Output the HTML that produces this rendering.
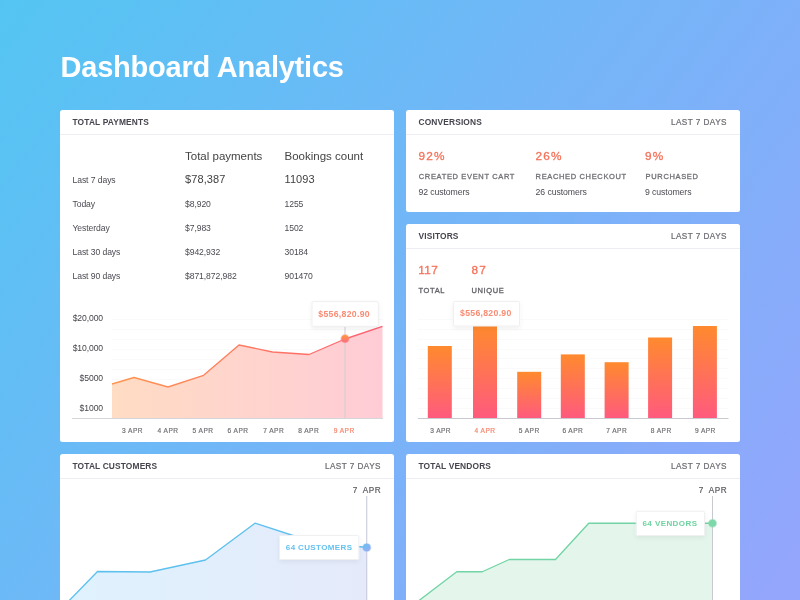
<!DOCTYPE html>
<html><head><meta charset="utf-8">
<style>
html,body{margin:0;padding:0;width:800px;height:600px;overflow:hidden}
body{background:linear-gradient(126.87deg,#54C5F3 0%,#95A5FC 100%);font-family:"Liberation Sans",sans-serif;position:relative}
.card{position:absolute;background:#fff;border-radius:2.5px}
svg{position:absolute;left:0;top:0;will-change:transform}
text{font-family:"Liberation Sans",sans-serif}
.hd{font-size:8.4px;font-weight:bold;letter-spacing:0.14px;fill:#45454e}
.l7{font-size:8.2px;letter-spacing:0.45px;fill:#6c6c72;stroke:#6c6c72;stroke-width:0.22px}
.tb{font-size:8.6px;letter-spacing:-0.08px;fill:#4a4a52}
.th{font-size:11.5px;fill:#444}
.big{font-size:11px;letter-spacing:0.1px;fill:#3f3f3f}
.pc{font-size:11.8px;fill:#F4725A;stroke:#F4725A;stroke-width:0.3px;letter-spacing:1.2px}
.cap{font-size:7.5px;letter-spacing:0.65px;fill:#707076;stroke:#707076;stroke-width:0.3px}
.ax{font-size:8.6px;letter-spacing:-0.1px;fill:#45454c}
.xl{font-size:6.6px;letter-spacing:0.42px;fill:#727277;stroke:#727277;stroke-width:0.2px}
.tt{font-size:8.7px;font-weight:bold;letter-spacing:0.3px;fill:#F98C74}
</style></head><body>
<div class="card" style="left:60px;top:110px;width:334px;height:332px"></div>
<div class="card" style="left:406px;top:110px;width:334px;height:102px"></div>
<div class="card" style="left:406px;top:224px;width:334px;height:218px"></div>
<div class="card" style="left:60px;top:454px;width:334px;height:160px"></div>
<div class="card" style="left:406px;top:454px;width:334px;height:160px"></div>
<svg width="800" height="600" viewBox="0 0 800 600">
<defs>
<linearGradient id="payLine" x1="112" y1="0" x2="383" y2="0" gradientUnits="userSpaceOnUse"><stop offset="0" stop-color="#FF9650"/><stop offset="1" stop-color="#FF5F72"/></linearGradient>
<linearGradient id="payFill" x1="112" y1="0" x2="383" y2="0" gradientUnits="userSpaceOnUse"><stop offset="0" stop-color="#FFDCC4"/><stop offset="1" stop-color="#FFCCD6"/></linearGradient>
<linearGradient id="bar" x1="0" y1="0" x2="0" y2="1"><stop offset="0" stop-color="#FF8A2E"/><stop offset="1" stop-color="#FF5A7E"/></linearGradient>
<linearGradient id="dot" x1="0" y1="0" x2="0" y2="1"><stop offset="0" stop-color="#FF9A3C"/><stop offset="1" stop-color="#FF6A86"/></linearGradient>
<linearGradient id="cusFill" x1="70" y1="0" x2="367" y2="0" gradientUnits="userSpaceOnUse"><stop offset="0" stop-color="#DFF2FD"/><stop offset="1" stop-color="#E5EAFB"/></linearGradient>
<linearGradient id="cusDot" x1="0" y1="0" x2="1" y2="1"><stop offset="0" stop-color="#62C2EF"/><stop offset="1" stop-color="#A0A8F6"/></linearGradient>
<filter id="sh" x="-20%" y="-30%" width="140%" height="170%"><feDropShadow dx="0" dy="2" stdDeviation="2" flood-color="#000" flood-opacity="0.06"/></filter>
</defs>

<!-- title -->
<text x="60.5" y="77" style="font-size:29px;font-weight:bold;fill:#fff;letter-spacing:-0.22px">Dashboard Analytics</text>

<!-- payments card -->
<text class="hd" x="72.5" y="125">TOTAL PAYMENTS</text>
<rect x="60" y="134" width="334" height="1" fill="#ECEEF3"/>
<text class="th" x="185" y="160">Total payments</text>
<text class="th" x="284.5" y="160">Bookings count</text>
<text class="tb" x="72.5" y="183">Last 7 days</text>
<text class="big" x="185" y="182.5">$78,387</text>
<text class="big" x="284.5" y="182.5">11093</text>
<text class="tb" x="72.5" y="207">Today</text>
<text class="tb" x="185" y="207">$8,920</text>
<text class="tb" x="284.5" y="207">1255</text>
<text class="tb" x="72.5" y="231">Yesterday</text>
<text class="tb" x="185" y="231">$7,983</text>
<text class="tb" x="284.5" y="231">1502</text>
<text class="tb" x="72.5" y="255">Last 30 days</text>
<text class="tb" x="185" y="255">$942,932</text>
<text class="tb" x="284.5" y="255">30184</text>
<text class="tb" x="72.5" y="279">Last 90 days</text>
<text class="tb" x="185" y="279">$871,872,982</text>
<text class="tb" x="284.5" y="279">901470</text>

<!-- pay chart grid -->
<g fill="#FAFAFB">
<rect x="112" y="319" width="271" height="1"/><rect x="112" y="329" width="271" height="1"/><rect x="112" y="339" width="271" height="1"/><rect x="112" y="349" width="271" height="1"/><rect x="112" y="359" width="271" height="1"/><rect x="112" y="369" width="271" height="1"/><rect x="112" y="379" width="271" height="1"/><rect x="112" y="389" width="271" height="1"/><rect x="112" y="399" width="271" height="1"/><rect x="112" y="409" width="271" height="1"/>
</g>
<text class="ax" x="103" y="321" text-anchor="end">$20,000</text>
<text class="ax" x="103" y="351" text-anchor="end">$10,000</text>
<text class="ax" x="103" y="381" text-anchor="end">$5000</text>
<text class="ax" x="103" y="411" text-anchor="end">$1000</text>
<path d="M112,384 L134,377.5 L168,387 L203.6,375.3 L239,345 L272.5,352 L309,354.5 L345,339 L382.5,326.3 L382.5,418 L112,418 Z" fill="url(#payFill)"/>
<path d="M112,384 L134,377.5 L168,387 L203.6,375.3 L239,345 L272.5,352 L309,354.5 L345,339 L382.5,326.3" fill="none" stroke="url(#payLine)" stroke-width="1.35" stroke-linejoin="round"/>
<rect x="72" y="418" width="311" height="1" fill="#D5D5DA"/>
<rect x="344.5" y="326" width="1" height="92" fill="#D2CDD3"/>
<circle cx="345" cy="338.7" r="4.6" fill="#FF8A70" opacity="0.35"/><circle cx="345" cy="338.7" r="3.8" fill="url(#dot)"/>
<rect x="312" y="301.6" width="66.3" height="24.7" rx="1" fill="#fff" stroke="#EFEFF1" stroke-width="1" filter="url(#sh)"/>
<text class="tt" x="318.3" y="316.8">$556,820.90</text>
<g class="xl" text-anchor="middle">
<text x="132.5" y="432.5">3 APR</text><text x="168" y="432.5">4 APR</text><text x="203" y="432.5">5 APR</text><text x="238" y="432.5">6 APR</text><text x="273.7" y="432.5">7 APR</text><text x="308.7" y="432.5">8 APR</text><text x="344.2" y="432.5" style="fill:#F7866E;stroke:#F7866E">9 APR</text>
</g>

<!-- conversions -->
<text class="hd" x="418.5" y="125">CONVERSIONS</text>
<text class="l7" x="727" y="125" text-anchor="end">LAST 7 DAYS</text>
<rect x="406" y="134" width="334" height="1" fill="#ECEEF3"/>
<text class="pc" x="418.5" y="159.5">92%</text>
<text class="pc" x="535.6" y="159.5">26%</text>
<text class="pc" x="645" y="159.5">9%</text>
<text class="cap" x="418.8" y="179">CREATED EVENT CART</text>
<text class="cap" x="535.6" y="179">REACHED CHECKOUT</text>
<text class="cap" x="645.6" y="179">PURCHASED</text>
<g style="font-size:8.7px"><text class="tb" x="418.4" y="194.5" style="font-size:8.7px">92 customers</text>
<text class="tb" x="535.6" y="194.5" style="font-size:8.7px">26 customers</text>
<text class="tb" x="645" y="194.5" style="font-size:8.7px">9 customers</text></g>

<!-- visitors -->
<text class="hd" x="418.5" y="239">VISITORS</text>
<text class="l7" x="727" y="239" text-anchor="end">LAST 7 DAYS</text>
<rect x="406" y="248" width="334" height="1" fill="#ECEEF3"/>
<text class="pc" x="418.3" y="273.5" style="letter-spacing:0.3px">117</text>
<text class="pc" x="471.4" y="273.5">87</text>
<text class="cap" x="418.4" y="293" style="fill:#606066;stroke:#606066">TOTAL</text>
<text class="cap" x="471.4" y="293" style="fill:#606066;stroke:#606066">UNIQUE</text>
<g fill="#FAFAFB">
<rect x="418" y="319" width="310" height="1"/><rect x="418" y="329" width="310" height="1"/><rect x="418" y="339" width="310" height="1"/><rect x="418" y="349" width="310" height="1"/><rect x="418" y="358" width="310" height="1"/><rect x="418" y="368" width="310" height="1"/><rect x="418" y="378" width="310" height="1"/><rect x="418" y="388" width="310" height="1"/><rect x="418" y="398" width="310" height="1"/><rect x="418" y="408" width="310" height="1"/>
</g>
<rect x="427.8" y="346" width="24" height="72.5" fill="url(#bar)"/>
<rect x="473" y="326" width="24" height="92.5" fill="url(#bar)"/>
<rect x="517.2" y="371.8" width="24" height="46.7" fill="url(#bar)"/>
<rect x="560.8" y="354.4" width="24" height="64.1" fill="url(#bar)"/>
<rect x="604.6" y="362.2" width="24" height="56.3" fill="url(#bar)"/>
<rect x="648.1" y="337.5" width="24" height="81" fill="url(#bar)"/>
<rect x="692.9" y="326" width="24" height="92.5" fill="url(#bar)"/>
<rect x="418" y="418" width="310.5" height="1" fill="#C9C9CF"/>
<rect x="453.6" y="301.4" width="66" height="24.6" rx="1" fill="#fff" stroke="#EFEFF1" stroke-width="1" filter="url(#sh)"/>
<text class="tt" x="460" y="316">$556,820.90</text>
<g class="xl" text-anchor="middle">
<text x="440.6" y="432.5">3 APR</text><text x="485" y="432.5" style="fill:#F7866E;stroke:#F7866E">4 APR</text><text x="529.2" y="432.5">5 APR</text><text x="572.8" y="432.5">6 APR</text><text x="616.7" y="432.5">7 APR</text><text x="661.2" y="432.5">8 APR</text><text x="705.4" y="432.5">9 APR</text>
</g>

<!-- customers -->
<text class="hd" x="72.5" y="469.3">TOTAL CUSTOMERS</text>
<text class="l7" x="381" y="469.3" text-anchor="end">LAST 7 DAYS</text>
<rect x="60" y="478" width="334" height="1" fill="#ECEEF3"/>
<text class="l7" x="381" y="493" text-anchor="end" style="fill:#5e5e64;stroke:#5e5e64;white-space:pre" xml:space="preserve">7  APR</text>
<path d="M60,610 L97.5,571.5 L150,572 L205.5,560 L255,523.2 L310,541 L366.75,547.5 L366.75,600 L60,600 Z" fill="url(#cusFill)"/>
<path d="M60,610 L97.5,571.5 L150,572 L205.5,560 L255,523.2 L310,541 L366.75,547.5" fill="none" stroke="#5EC0EE" stroke-width="1.35" stroke-linejoin="round"/>
<rect x="366.25" y="496" width="1" height="104" fill="#C4C6D8"/>
<circle cx="366.75" cy="547.5" r="4.6" fill="#86B6F3" opacity="0.4"/><circle cx="366.75" cy="547.5" r="3.8" fill="url(#cusDot)"/>
<rect x="279.5" y="535.5" width="79.3" height="24" rx="1" fill="#fff" stroke="#F0F0F3" stroke-width="1" filter="url(#sh)"/>
<text class="tt" x="285.8" y="550" style="fill:#64C2F0;letter-spacing:0.38px;font-size:8px">64 CUSTOMERS</text>

<!-- vendors -->
<text class="hd" x="418.5" y="469.3">TOTAL VENDORS</text>
<text class="l7" x="727" y="469.3" text-anchor="end">LAST 7 DAYS</text>
<rect x="406" y="478" width="334" height="1" fill="#ECEEF3"/>
<text class="l7" x="727" y="493" text-anchor="end" style="fill:#5e5e64;stroke:#5e5e64;white-space:pre" xml:space="preserve">7  APR</text>
<path d="M406.6,610 L456.75,571.75 L482.25,571.75 L509.25,559.5 L555.5,559.5 L588.75,523.25 L712.5,523.25 L712.5,600 L406.6,600 Z" fill="#E4F6EC"/>
<path d="M406.6,610 L456.75,571.75 L482.25,571.75 L509.25,559.5 L555.5,559.5 L588.75,523.25 L712.5,523.25" fill="none" stroke="#72D4A4" stroke-width="1.35" stroke-linejoin="round"/>
<rect x="712" y="496" width="1" height="104" fill="#C8C8D0"/>
<circle cx="712.5" cy="523.25" r="4.6" fill="#7DD8A9" opacity="0.45"/><circle cx="712.5" cy="523.25" r="3.6" fill="#7DD8A9"/>
<rect x="636.25" y="511.25" width="68.25" height="24.25" rx="1" fill="#fff" stroke="#F0F0F3" stroke-width="1" filter="url(#sh)"/>
<text class="tt" x="642.5" y="526.3" style="fill:#6ED3A0;letter-spacing:0.42px;font-size:8px">64 VENDORS</text>
</svg>
</body></html>
